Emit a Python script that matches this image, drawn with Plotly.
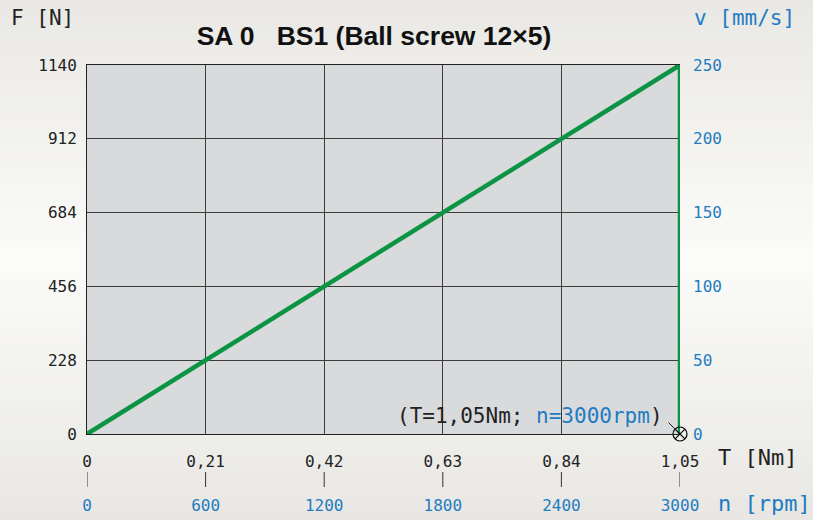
import plotly.graph_objects as go

# ---- data ----
torque = [0, 1.05, 1.05]          # T [Nm]
force = [0, 1140, 0]              # F [N]
t_ticks = [0, 0.21, 0.42, 0.63, 0.84, 1.05]
t_labels = ["0", "0,21", "0,42", "0,63", "0,84", "1,05"]
f_ticks = [0, 228, 456, 684, 912, 1140]
v_ticks = [0, 50, 100, 150, 200, 250]
n_ticks = [0, 600, 1200, 1800, 2400, 3000]
op_point_T = [1.05]
op_point_F = [0]

GREEN = "#0b9444"
BLUE = "#1f7cc2"
FONT = "DejaVu Sans Mono"

W, H = 813, 520
L, R, T, B = 87, 133, 65, 86
pw, ph = W - L - R, H - T - B

fig = go.Figure()
fig.add_trace(go.Scatter(x=torque, y=force, mode="lines",
                         line=dict(color=GREEN, width=4.5), showlegend=False))
fig.add_trace(go.Scatter(x=op_point_T, y=op_point_F, mode="markers",
                         marker=dict(symbol="circle-x-open", size=14,
                                     color="black", line=dict(width=1.2)),
                         cliponaxis=False, showlegend=False))
# invisible traces for secondary axes
fig.add_trace(go.Scatter(x=[None], y=[None], xaxis="x2", yaxis="y", showlegend=False))
fig.add_trace(go.Scatter(x=[None], y=[None], xaxis="x", yaxis="y2", showlegend=False))


def lerp_col(c1, c2, t):
    a = [int(c1[i:i + 2], 16) for i in (1, 3, 5)]
    b = [int(c2[i:i + 2], 16) for i in (1, 3, 5)]
    return "rgb(%d,%d,%d)" % tuple(round(a[k] + (b[k] - a[k]) * t) for k in range(3))


# vertical gradient background (paper)
shapes = []
top_c, mid_c, bot_c = "#e9e8e4", "#fbfbf9", "#e8e7e3"
steps = 52
for i in range(steps):
    py0 = i * H / steps
    py1 = (i + 1) * H / steps + 0.5
    f = (i + 0.5) / steps
    col = lerp_col(top_c, mid_c, f / 0.5) if f < 0.5 else lerp_col(mid_c, bot_c, (f - 0.5) / 0.5)
    shapes.append(dict(type="rect", xref="paper", yref="paper",
                       x0=-L / pw - 0.01, x1=(W - L) / pw + 0.01,
                       y0=1 - (py1 - T) / ph, y1=1 - (py0 - T) / ph,
                       fillcolor=col, line=dict(width=0), layer="below"))
shapes.append(dict(type="rect", xref="paper", yref="paper", x0=0, x1=1, y0=0, y1=1,
                   fillcolor="#d9dadc", line=dict(width=0), layer="below"))
for tv in t_ticks:
    shapes.append(dict(type="line", xref="x", yref="paper", x0=tv, x1=tv,
                       y0=-(472 - 434) / ph, y1=-(487 - 434) / ph,
                       line=dict(color="#333", width=1)))

annotations = [
    dict(text="F [N]", xref="paper", yref="paper", x=(9 - L) / pw, y=1 + (T - 18) / ph,
         xanchor="left", yanchor="middle", showarrow=False,
         font=dict(family=FONT, size=21, color="#222")),
    dict(text="v [mm/s]", xref="paper", yref="paper", x=(692 - L) / pw, y=1 + (T - 18) / ph,
         xanchor="left", yanchor="middle", showarrow=False,
         font=dict(family=FONT, size=21, color=BLUE)),
    dict(text="T [Nm]", xref="paper", yref="paper", x=(716 - L) / pw, y=-(457 - 434) / ph,
         xanchor="left", yanchor="middle", showarrow=False,
         font=dict(family=FONT, size=22, color="#222")),
    dict(text="n [rpm]", xref="paper", yref="paper", x=(716 - L) / pw, y=-(504 - 434) / ph,
         xanchor="left", yanchor="middle", showarrow=False,
         font=dict(family=FONT, size=22, color=BLUE)),
    dict(text="(T=1,05Nm; <span style='color:%s'>n=3000rpm</span>)" % BLUE,
         xref="x", yref="y", x=1.05 * (665 - L) / pw, y=1140 * (434 - 416) / ph,
         xanchor="right", yanchor="middle", showarrow=False,
         font=dict(family=FONT, size=21, color="#222")),
    dict(text="", xref="x", yref="y", x=1.05, y=0, ax=-13, ay=-13,
         showarrow=True, arrowhead=0, arrowwidth=1, arrowcolor="#222", standoff=6),
]

fig.update_layout(
    width=W, height=H,
    margin=dict(l=L, r=R, t=T, b=B, autoexpand=False),
    paper_bgcolor="#f3f2ef",
    plot_bgcolor="rgba(0,0,0,0)",
    title=dict(text="<b>SA 0   BS1 (Ball screw 12×5)</b>", x=374 / W, xanchor="center",
               y=1 - 36 / H, yanchor="middle",
               font=dict(family="Liberation Sans", size=26.5, color="#111")),
    xaxis=dict(range=[0, 1.05], tickvals=t_ticks, ticktext=t_labels, ticks="",
               showgrid=True, gridcolor="#3c3c3c", gridwidth=1,
               showline=True, linecolor="#222", linewidth=1, mirror=True,
               zeroline=False, ticklabelstandoff=13,
               tickfont=dict(family=FONT, size=16, color="#222")),
    xaxis2=dict(range=[0, 3000], tickvals=n_ticks, overlaying="x", side="bottom",
                anchor="y", ticks="", showgrid=False, zeroline=False, showline=False,
                ticklabelstandoff=60,
                tickfont=dict(family=FONT, size=16, color=BLUE)),
    yaxis=dict(range=[0, 1140], tickvals=f_ticks, ticks="",
               showgrid=True, gridcolor="#3c3c3c", gridwidth=1,
               showline=True, linecolor="#222", linewidth=1, mirror=False,
               zeroline=False, ticklabelstandoff=6,
               tickfont=dict(family=FONT, size=16, color="#222")),
    yaxis2=dict(range=[0, 250], tickvals=v_ticks, overlaying="y", side="right",
                ticks="", showgrid=False, zeroline=False, showline=False,
                ticklabelstandoff=12,
                tickfont=dict(family=FONT, size=16, color=BLUE)),
    shapes=shapes,
    annotations=annotations,
)

fig.write_html("out.html", config={"displayModeBar": False},
               post_script="document.body.style.margin='0px';")
